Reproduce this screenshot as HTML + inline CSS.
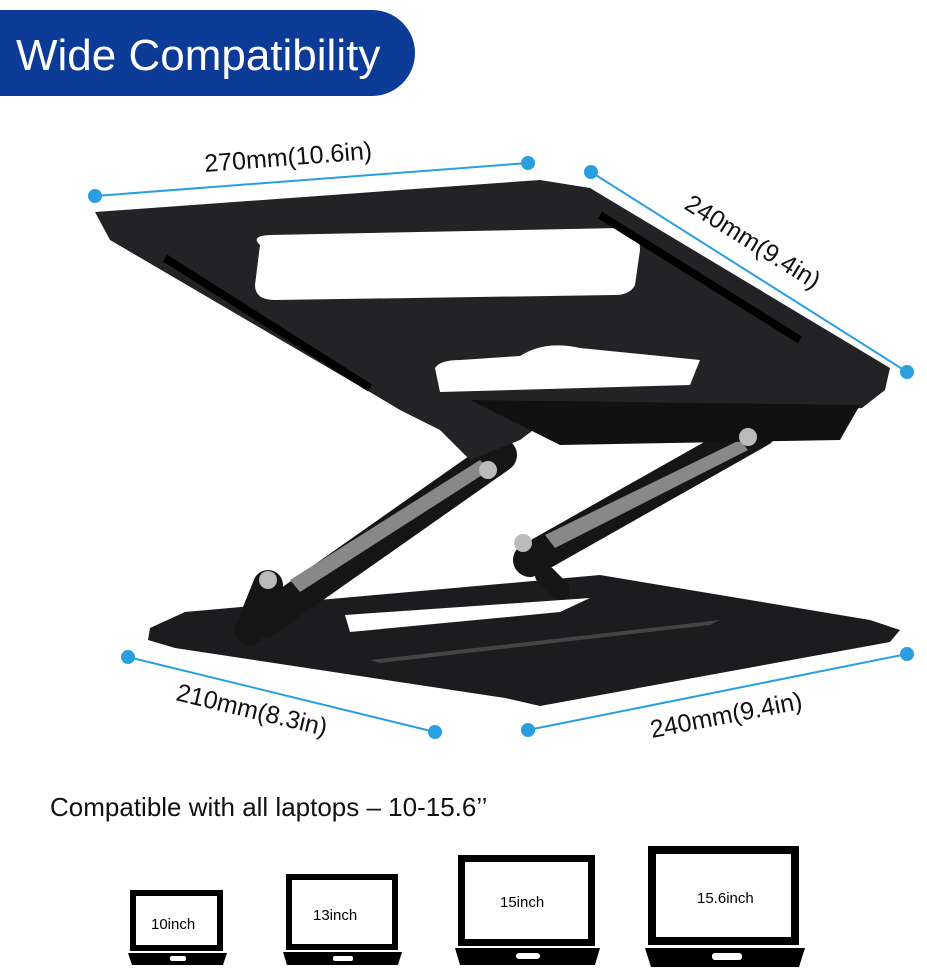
<!DOCTYPE html>
<html><head><meta charset="utf-8"><style>
body{margin:0;background:#fff;width:927px;height:975px;overflow:hidden;font-family:"Liberation Sans",sans-serif}
</style></head><body>
<svg width="927" height="975" viewBox="0 0 927 975" xmlns="http://www.w3.org/2000/svg" font-family="Liberation Sans, sans-serif">
<path d="M0 10 H372 A43 43 0 0 1 372 96 H0 Z" fill="#0b3a97"/>
<text x="16" y="70" font-size="44" fill="#fff">Wide Compatibility</text>

<!-- base plate -->
<path d="M150 628 L185 612 L600 575 L870 620 L900 630 L890 642 L540 706 L505 698 L175 648 L148 640 Z" fill="#1c1c1e"/>
<path d="M345 615 L590 598 L560 612 L350 632 Z" fill="#fff"/>
<path d="M370 660 L720 620 L710 625 L380 663 Z" fill="#444"/>
<!-- arms -->
<g stroke="#151515" stroke-linecap="round" fill="none">
<line x1="265" y1="620" x2="500" y2="455" stroke-width="34"/>
<line x1="530" y1="560" x2="760" y2="430" stroke-width="34"/>
<line x1="268" y1="585" x2="250" y2="630" stroke-width="30"/>
<line x1="545" y1="575" x2="560" y2="590" stroke-width="20"/>
</g>
<path d="M290 580 L480 460 L490 470 L300 592 Z" fill="#888"/>
<path d="M545 535 L740 440 L748 450 L555 548 Z" fill="#888"/>
<!-- top plate -->
<path d="M95 212 L540 180 L590 188 L890 368 L885 390 L862 408 L790 414 L560 410 L520 440 L470 460 L440 430 L400 410 L380 398 L110 240 Z" fill="#232325"/>
<path d="M260 245 Q250 236 270 235 L620 228 Q640 230 640 250 L635 285 Q630 295 615 295 L275 300 Q255 300 255 285 Z" fill="#fff"/>
<path d="M435 368 Q440 360 460 360 L520 356 Q545 340 580 348 L700 360 L690 385 L440 392 Z" fill="#fff"/>
<path d="M470 400 L860 405 L840 440 L560 445 Z" fill="#111"/>
<path d="M165 258 L370 388" stroke="#000" stroke-width="8"/>
<path d="M600 215 L800 340" stroke="#000" stroke-width="8"/>
<circle cx="488" cy="470" r="9" fill="#bbb"/><circle cx="748" cy="437" r="9" fill="#bbb"/>
<circle cx="523" cy="543" r="9" fill="#bbb"/><circle cx="268" cy="580" r="9" fill="#bbb"/>

<!-- dimension lines -->
<g stroke="#2a9fe0" stroke-width="2" fill="#2a9fe0">
<line x1="95" y1="196" x2="528" y2="163"/><circle cx="95" cy="196" r="6"/><circle cx="528" cy="163" r="6"/>
<line x1="591" y1="172" x2="907" y2="372"/><circle cx="591" cy="172" r="6"/><circle cx="907" cy="372" r="6"/>
<line x1="128" y1="657" x2="435" y2="732"/><circle cx="128" cy="657" r="6"/><circle cx="435" cy="732" r="6"/>
<line x1="528" y1="730" x2="907" y2="654"/><circle cx="528" cy="730" r="6"/><circle cx="907" cy="654" r="6"/>
</g>
<g font-size="25" fill="#111">
<text x="0" y="0" transform="translate(205,172) rotate(-4.5)">270mm(10.6in)</text>
<text x="0" y="0" transform="translate(683,208) rotate(32)">240mm(9.4in)</text>
<text x="0" y="0" transform="translate(175,700) rotate(13.5)">210mm(8.3in)</text>
<text x="0" y="0" transform="translate(652,738) rotate(-11)">240mm(9.4in)</text>
</g>

<text x="50" y="816" font-size="26" fill="#111">Compatible with all laptops – 10-15.6’’</text>

<!-- laptops -->
<g fill="#000">
<rect x="130" y="890" width="93" height="61"/><rect x="136" y="896" width="81" height="49" fill="#fff"/>
<path d="M128 953 H227 L223 965 H132 Z"/><rect x="170" y="956" width="16" height="5" rx="2" fill="#fff"/>
<text x="151" y="929" font-size="15" fill="#000">10inch</text>

<rect x="286" y="874" width="112" height="76"/><rect x="292" y="880" width="100" height="64" fill="#fff"/>
<path d="M283 952 H402 L398 965 H287 Z"/><rect x="333" y="956" width="20" height="5" rx="2" fill="#fff"/>
<text x="313" y="920" font-size="15">13inch</text>

<rect x="458" y="855" width="137" height="91"/><rect x="465" y="862" width="123" height="77" fill="#fff"/>
<path d="M455 948 H600 L595 965 H460 Z"/><rect x="516" y="953" width="24" height="6" rx="3" fill="#fff"/>
<text x="500" y="907" font-size="15">15inch</text>

<rect x="648" y="846" width="151" height="99"/><rect x="656" y="854" width="135" height="83" fill="#fff"/>
<path d="M645 948 H805 L799 967 H651 Z"/><rect x="712" y="953" width="30" height="7" rx="3" fill="#fff"/>
<text x="697" y="903" font-size="15">15.6inch</text>
</g>
</svg>
</body></html>
